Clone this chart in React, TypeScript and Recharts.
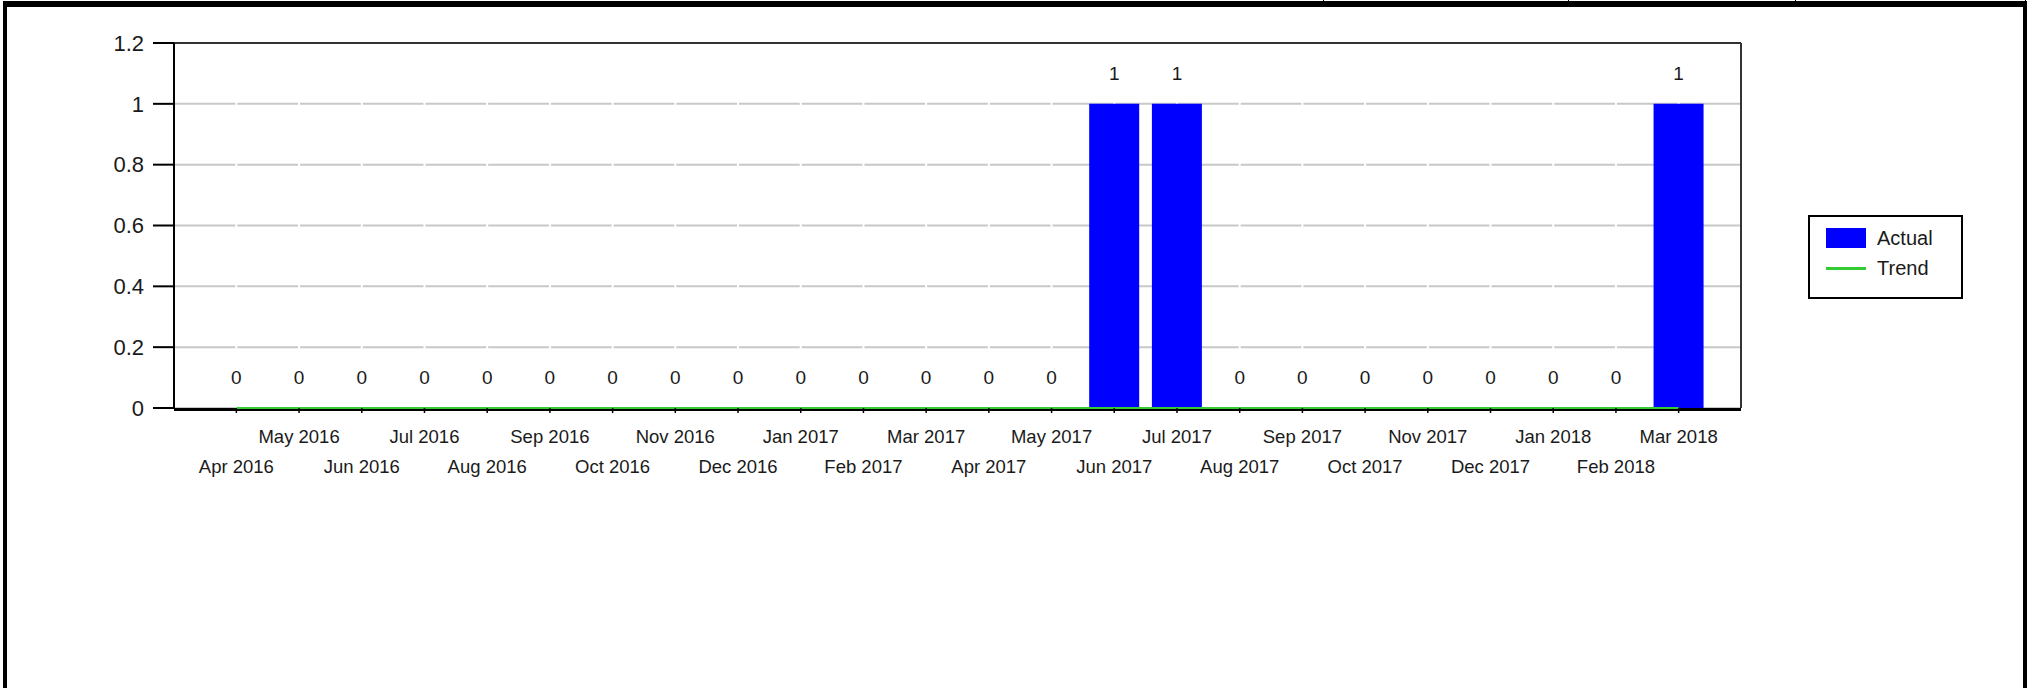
import React from "react";
import {
  ComposedChart,
  Bar,
  Line,
  XAxis,
  YAxis,
  CartesianGrid,
  LabelList,
  Legend,
} from "recharts";

// --- Data ---

const MONTHS = [
  "Apr 2016", "May 2016", "Jun 2016", "Jul 2016", "Aug 2016", "Sep 2016",
  "Oct 2016", "Nov 2016", "Dec 2016", "Jan 2017", "Feb 2017", "Mar 2017",
  "Apr 2017", "May 2017", "Jun 2017", "Jul 2017", "Aug 2017", "Sep 2017",
  "Oct 2017", "Nov 2017", "Dec 2017", "Jan 2018", "Feb 2018", "Mar 2018",
];

const ACTUAL = [0, 0, 0, 0, 0, 0, 0, 0, 0, 0, 0, 0, 0, 0, 1, 1, 0, 0, 0, 0, 0, 0, 0, 1];

const TREND = [0, 0, 0, 0, 0, 0, 0, 0, 0, 0, 0, 0, 0, 0, 0, 0, 0, 0, 0, 0, 0, 0, 0, 0];

const Y_TICKS = [0, 0.2, 0.4, 0.6, 0.8, 1, 1.2];

// --- Styles ---

const FONT = '"Liberation Sans", Arial, sans-serif';
const BAR_BLUE = "#0000ff";
const TREND_GREEN = "#33cc33";
const GRID_GRAY = "#c8c8c8";
const TEXT = "#1a1a1a";

const W = 2041;
const H = 688;

const data = MONTHS.map((m, i) => ({ month: m, actual: ACTUAL[i], trend: TREND[i] }));

// month labels alternate between two rows so they don't collide
function MonthTick(props: any) {
  const { x, y, payload } = props;
  const idx = payload?.index ?? props.index ?? 0;
  const upper = idx % 2 === 1;
  return (
    <text
      x={x}
      y={y}
      dy={upper ? 28 : 58}
      textAnchor="middle"
      fill={TEXT}
      fontSize={18.5}
      fontFamily={FONT}
    >
      {payload.value}
    </text>
  );
}

function LegendBox({ payload }: any) {
  const items = (payload ?? []).filter((it: any) => it.type !== "none");
  return (
    <div
      style={{
        position: "relative",
        boxSizing: "border-box",
        width: 155,
        height: 84,
        border: "2px solid #000",
        background: "#fff",
        fontFamily: FONT,
        fontSize: 20,
        color: TEXT,
      }}
    >
      {items.map((it: any, i: number) => {
        const cy = 21 + i * 30;
        return (
          <div key={it.value} style={{ position: "absolute", left: 16, top: cy - 12, height: 24, display: "flex", alignItems: "center" }}>
            {it.type === "line" ? (
              <span style={{ display: "inline-block", width: 40, height: 3, background: it.color }} />
            ) : (
              <span style={{ display: "inline-block", width: 40, height: 20, background: it.color }} />
            )}
            <span style={{ marginLeft: 11, lineHeight: "24px" }}>{it.value}</span>
          </div>
        );
      })}
    </div>
  );
}

// plot frame lines, placed from the chart offset
const frameTop = ({ offset }: any) => [offset.top];
const frameRight = ({ offset }: any) => [offset.left + offset.width];
const frameBottom = ({ offset }: any) => [offset.top + offset.height + 1.5];

export default function App() {
  return (
    <div style={{ position: "absolute", left: 0, top: 0, width: W, height: H, background: "#fff", overflow: "hidden" }}>
      {/* surrounding cell border */}
      <div
        style={{
          position: "absolute",
          left: 3,
          top: 1,
          width: 2024,
          height: 720,
          boxSizing: "border-box",
          borderLeft: "4px solid #000",
          borderRight: "4px solid #000",
          borderTop: "6px solid #000",
        }}
      />
      {[1323, 1568, 1795, 2025].map((x) => (
        <div key={x} style={{ position: "absolute", left: x, top: 0, width: 1, height: 2, background: "#000" }} />
      ))}

      <div style={{ position: "absolute", left: 0, top: 0 }}>
        <ComposedChart
          width={W}
          height={H}
          data={data}
          margin={{ top: 43, right: 300, bottom: 200, left: 0 }}
          barCategoryGap="10%"
        >
          <CartesianGrid horizontal vertical={false} stroke={GRID_GRAY} strokeWidth={2} />
          <CartesianGrid horizontal={false} vertical stroke="#fff" strokeWidth={2} />
          <CartesianGrid
            horizontal
            vertical
            stroke="#333"
            strokeWidth={2}
            horizontalCoordinatesGenerator={frameTop}
            verticalCoordinatesGenerator={frameRight}
          />
          <CartesianGrid
            horizontal
            vertical={false}
            stroke="#000"
            strokeWidth={3}
            horizontalCoordinatesGenerator={frameBottom}
          />
          <XAxis
            dataKey="month"
            interval={0}
            height={80}
            padding={{ left: 31, right: 31 }}
            axisLine={false}
            tickLine={{ stroke: "#000", strokeWidth: 1.5 }}
            tickSize={5}
            tick={<MonthTick />}
          />
          <YAxis
            width={174}
            domain={[0, 1.2]}
            ticks={Y_TICKS}
            interval={0}
            tickFormatter={(v) => String(v)}
            axisLine={{ stroke: "#000", strokeWidth: 2 }}
            tickLine={{ stroke: "#000", strokeWidth: 2 }}
            tickSize={21}
            tickMargin={9}
            tick={{ fill: TEXT, fontSize: 22, fontFamily: FONT }}
          />
          <Bar dataKey="actual" name="Actual" fill={BAR_BLUE} isAnimationActive={false} />
          <Line
            dataKey="trend"
            name="Trend"
            type="linear"
            stroke={TREND_GREEN}
            strokeWidth={2}
            dot={false}
            activeDot={false}
            isAnimationActive={false}
          />
          {/* invisible carrier for the value labels, so zero months get a "0" too */}
          <Line
            dataKey="actual"
            name="actual-labels"
            legendType="none"
            stroke="none"
            strokeWidth={0}
            dot={false}
            activeDot={false}
            isAnimationActive={false}
          >
            <LabelList
              dataKey="actual"
              position="top"
              offset={24}
              fill={TEXT}
              fontSize={19}
              fontFamily={FONT}
            />
          </Line>
          <Legend
            layout="horizontal"
            verticalAlign="middle"
            align="center"
            content={<LegendBox />}
            wrapperStyle={{ left: 1808, top: 215, width: 155, height: 84 }}
          />
        </ComposedChart>
      </div>
    </div>
  );
}
